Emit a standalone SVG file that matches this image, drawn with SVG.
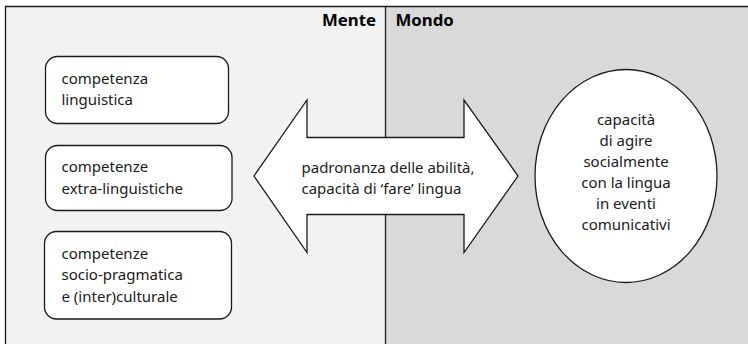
<svg xmlns="http://www.w3.org/2000/svg" width="748" height="344" viewBox="0 0 748 344">
<style>
  .t { font-family: "Noto Sans", "Open Sans", sans-serif; font-size: 15px; fill: #1a1a1a; }
  .h { font-family: "Noto Sans", "Open Sans", sans-serif; font-size: 16.8px; font-weight: bold; fill: #000; }
  .box { fill: #fff; stroke: #1a1a1a; stroke-width: 1.3; }
  .ln { stroke: #1a1a1a; stroke-width: 1.3; fill: none; }
</style>
<rect x="0" y="0" width="748" height="344" fill="#fff"/>
<g id="panels">
  <rect x="5.5" y="6.5" width="380" height="340" fill="#f2f2f2"/>
  <rect x="385.5" y="6.5" width="365" height="340" fill="#d9d9d9"/>
  <path class="ln" d="M5.5 346 V6.5 H750"/>
  <line class="ln" x1="385.5" y1="6.5" x2="385.5" y2="346"/>
  <text class="h" x="376" y="25.5" text-anchor="end">Mente</text>
  <text class="h" x="395.5" y="25.5">Mondo</text>
</g>
<g id="connectors">
  <path id="arrow" class="box" d="M254 176 L307 100 L307 137.5 L464 137.5 L464 100 L518 176 L464 252.5 L464 214.5 L307 214.5 L307 252.5 Z"/>
  <text class="t" x="301.5" y="172.5">padronanza delle abilità,</text>
  <text class="t" x="301.5" y="193.5">capacità di ‘fare’ lingua</text>
</g>
<g id="node1">
  <rect class="box" x="45.5" y="56.5" width="183" height="67" rx="12"/>
  <text class="t" x="61.5" y="83.5">competenza</text>
  <text class="t" x="61.5" y="105">linguistica</text>
</g>
<g id="node2">
  <rect class="box" x="45.5" y="145.5" width="186.5" height="65" rx="12"/>
  <text class="t" x="61.5" y="172">competenze</text>
  <text class="t" x="61.5" y="193.5">extra-linguistiche</text>
</g>
<g id="node3">
  <rect class="box" x="44.5" y="231.5" width="187" height="87.5" rx="12"/>
  <text class="t" x="61.5" y="258.5">competenze</text>
  <text class="t" x="61.5" y="280">socio-pragmatica</text>
  <text class="t" x="61.5" y="301.5">e (inter)culturale</text>
</g>
<g id="node4">
  <ellipse class="box" cx="626" cy="176" rx="91" ry="106.5"/>
  <text class="t" text-anchor="middle" x="626" y="124.5">capacità</text>
  <text class="t" text-anchor="middle" x="626" y="145.5">di agire</text>
  <text class="t" text-anchor="middle" x="626" y="166.5">socialmente</text>
  <text class="t" text-anchor="middle" x="626" y="187.5">con la lingua</text>
  <text class="t" text-anchor="middle" x="626" y="208.5">in eventi</text>
  <text class="t" text-anchor="middle" x="626" y="229.5">comunicativi</text>
</g>
</svg>
